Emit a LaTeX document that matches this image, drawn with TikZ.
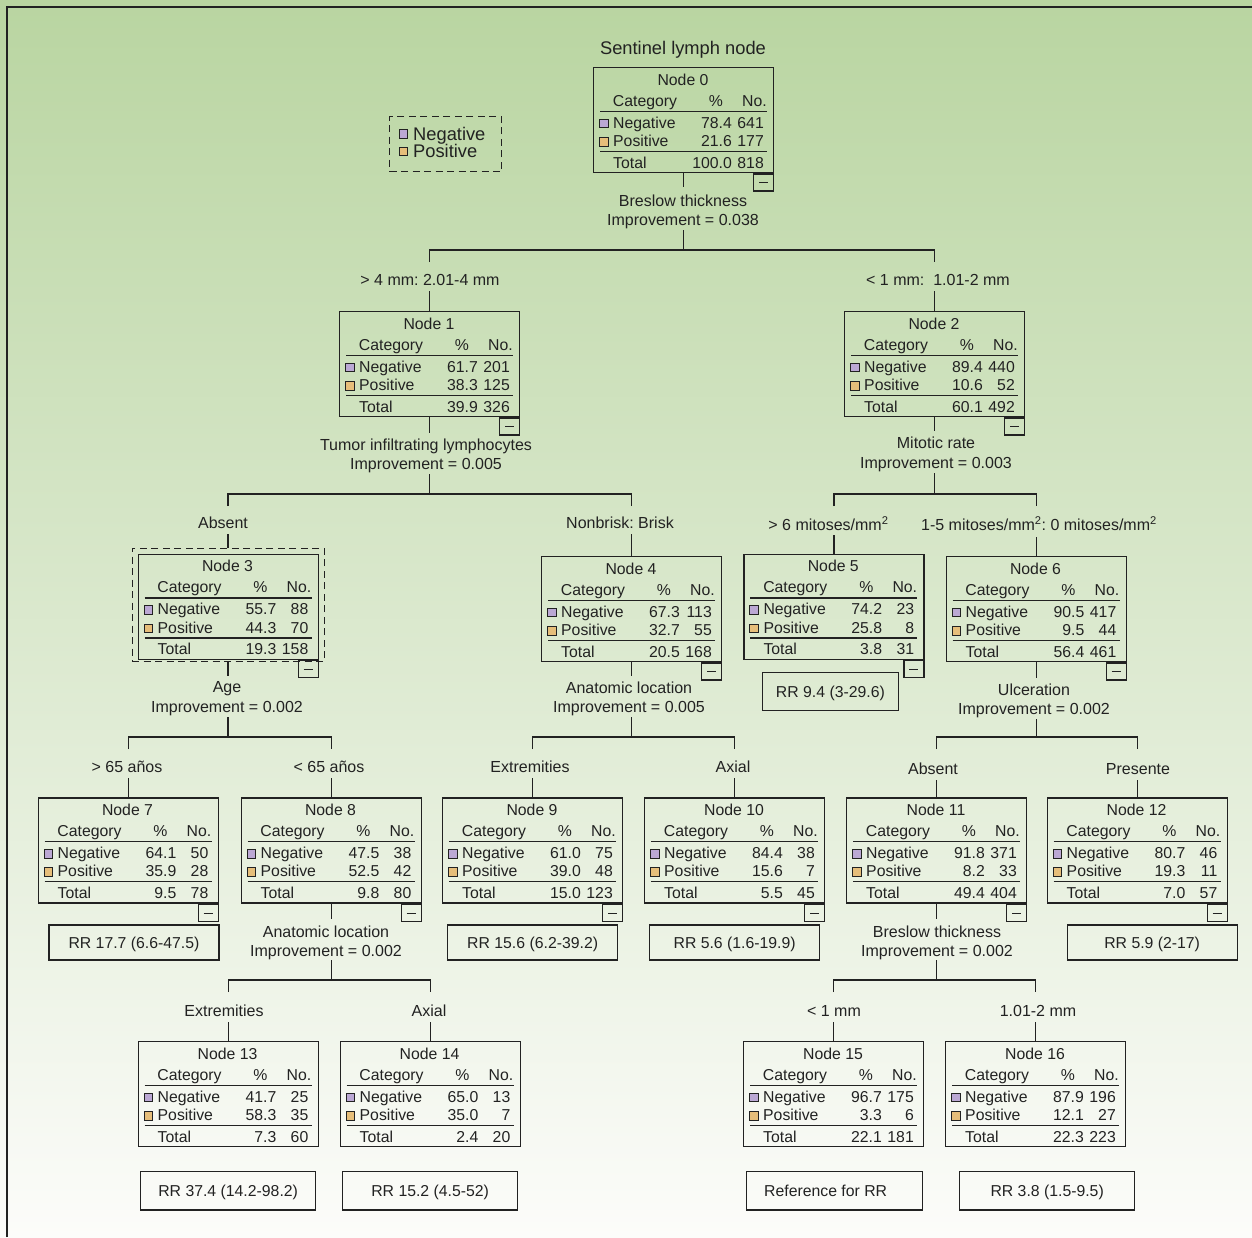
\documentclass[tikz,border=0pt]{standalone}
\usepackage{fontspec}
\setmainfont{Liberation Sans}
\usetikzlibrary{calc}
\frenchspacing
\definecolor{bgtop}{HTML}{B9D5A1}
\definecolor{bgbot}{HTML}{FCFCFA}
\definecolor{negc}{HTML}{BBA8D4}
\definecolor{posc}{HTML}{E6BE7A}
\definecolor{ink}{HTML}{222222}
\newcommand\fsN{\fontsize{15.8}{19}\selectfont}
\newcommand\fsL{\fontsize{16}{19}\selectfont}
\newcommand\fsT{\fontsize{18.3}{20}\selectfont}
\tikzset{
  nodebox/.style={draw=ink, line width=1.3pt, minimum width=180pt, minimum height=105pt, inner sep=0pt, anchor=north west},
  tx/.style={font=\fsN, text=ink, inner sep=0pt, anchor=base},
  txl/.style={tx, anchor=base west},
  txr/.style={tx, anchor=base east},
  rulel/.style={draw=ink, line width=1.2pt},
  sq/.style={draw=ink, line width=0.9pt, minimum size=8.6pt, inner sep=0pt, anchor=north west},
  minusbox/.style={draw=ink, line width=1.3pt, minimum width=20pt, minimum height=17pt, inner sep=0pt, anchor=north east},
  conn/.style={draw=ink, line width=1.3pt},
  lab/.style={font=\fsL, text=ink, inner sep=0pt, text height=11.46pt, text depth=0pt},
  rrbox/.style={draw=ink, line width=1.3pt, inner sep=0pt, font=\fsN, text=ink, text height=11.3pt, text depth=0pt, anchor=north west},
  dashbox/.style={draw=ink, line width=1.2pt, dash pattern=on 7pt off 4.5pt, inner sep=0pt, anchor=north west},
}
\newcommand\treenode[9]{%
  \node[nodebox] (n#1) at (#2,#3) {};
  \coordinate (n#1o) at (n#1.north west);
  \node[tx] (n#1ti) at ($(n#1o)+(90,18.4)$) {Node #1};
  \node[tx] (n#1hc) at ($(n#1o)+(52,39)$) {Category};
  \node[tx] (n#1hp) at ($(n#1o)+(123,39)$) {\%};
  \node[txr] (n#1hn) at ($(n#1o)+(174,39)$) {No.};
  \draw[rulel] ($(n#1o)+(7,44.5)$) -- ($(n#1o)+(174,44.5)$);
  \node[sq,fill=negc] (n#1sa) at ($(n#1o)+(6,51.6)$) {};
  \node[txl] (n#1ca) at ($(n#1o)+(20,61)$) {Negative};
  \node[txr] (n#1pa) at ($(n#1o)+(139,61)$) {#4};
  \node[txr] (n#1ka) at ($(n#1o)+(171,61)$) {#5};
  \node[sq,fill=posc] (n#1sb) at ($(n#1o)+(6,70)$) {};
  \node[txl] (n#1cb) at ($(n#1o)+(20,79.5)$) {Positive};
  \node[txr] (n#1pb) at ($(n#1o)+(139,79.5)$) {#6};
  \node[txr] (n#1kb) at ($(n#1o)+(171,79.5)$) {#7};
  \draw[rulel] ($(n#1o)+(7,84.5)$) -- ($(n#1o)+(174,84.5)$);
  \node[txl] (n#1cc) at ($(n#1o)+(20,101)$) {Total};
  \node[txr] (n#1pc) at ($(n#1o)+(139,101)$) {#8};
  \node[txr] (n#1kc) at ($(n#1o)+(171,101)$) {#9};
}
\newcommand\minusb[1]{%
  \node[minusbox] (n#1m) at (n#1.south east) {};
  \draw[conn, line width=1.1pt] ($(n#1m.center)+(-4.5,0.3)$) -- ($(n#1m.center)+(4.5,0.3)$);
}
\begin{document}
\begin{tikzpicture}[x=1pt,y=-1pt]
\shade[top color=bgtop, bottom color=bgbot] (0,0) rectangle (1252,1237);
\useasboundingbox (0,0) rectangle (1252,1237);
\draw[ink, line width=2pt] (7,1237) -- (7,7) -- (1252,7);

% title and legend
\node[font=\fsT, text=ink, anchor=base, inner sep=0pt] (title) at (683,54) {Sentinel lymph node};
\node[dashbox, minimum width=112pt, minimum height=55pt] (legend) at (389,116) {};
\node[sq, minimum size=8.5pt, fill=negc] (lgsa) at (398.5,129.2) {};
\node[font=\fsT, text=ink, anchor=base west, inner sep=0pt] (lgta) at (413,140) {Negative};
\node[sq, minimum size=8.5pt, fill=posc] (lgsb) at (398.5,146.7) {};
\node[font=\fsT, text=ink, anchor=base west, inner sep=0pt] (lgtb) at (413,157.7) {Positive};

% nodes
\treenode{0}{593}{67}{78.4}{641}{21.6}{177}{100.0}{818}\minusb{0}
\treenode{1}{339}{311}{61.7}{201}{38.3}{125}{39.9}{326}\minusb{1}
\treenode{2}{844}{311}{89.4}{440}{10.6}{52}{60.1}{492}\minusb{2}
\treenode{3}{137.5}{553.5}{55.7}{88}{44.3}{70}{19.3}{158}\minusb{3}
\node[dashbox, minimum width=192pt, minimum height=113.5pt] (n3d) at (131.5,547.5) {};
\treenode{4}{541}{556}{67.3}{113}{32.7}{55}{20.5}{168}\minusb{4}
\treenode{5}{743.3}{553.5}{74.2}{23}{25.8}{8}{3.8}{31}\minusb{5}
\treenode{6}{945.5}{556}{90.5}{417}{9.5}{44}{56.4}{461}\minusb{6}
\treenode{7}{37.5}{797.3}{64.1}{50}{35.9}{28}{9.5}{78}\minusb{7}
\treenode{8}{240.5}{797.3}{47.5}{38}{52.5}{42}{9.8}{80}\minusb{8}
\treenode{9}{442}{797.3}{61.0}{75}{39.0}{48}{15.0}{123}\minusb{9}
\treenode{10}{644}{797.3}{84.4}{38}{15.6}{7}{5.5}{45}\minusb{10}
\treenode{11}{846}{797.3}{91.8}{371}{8.2}{33}{49.4}{404}\minusb{11}
\treenode{12}{1046.5}{797.3}{80.7}{46}{19.3}{11}{7.0}{57}\minusb{12}
\treenode{13}{137.5}{1041}{41.7}{25}{58.3}{35}{7.3}{60}
\treenode{14}{339.5}{1041}{65.0}{13}{35.0}{7}{2.4}{20}
\treenode{15}{743}{1041}{96.7}{175}{3.3}{6}{22.1}{181}
\treenode{16}{945}{1041}{87.9}{196}{12.1}{27}{22.3}{223}

% split 0
\node[lab] (s0a) at (683,201) {Breslow thickness};
\node[lab] (s0b) at (683,220) {Improvement = 0.038};
\draw[conn] (n0.south) -- (n0.south |- 0,187);
\draw[conn] (n0.south |- 0,230) -- (n0.south |- 0,250);
\draw[conn] (n1.north |- 0,262) |- (n2.north |- 0,250) -- (n2.north |- 0,262);
\node[lab] (l1) at (430,280) {> 4 mm: 2.01-4 mm};
\node[lab] (l2) at (938,280) {< 1 mm:\ \ 1.01-2 mm};
\draw[conn] (n1.north |- 0,291) -- (n1.north);
\draw[conn] (n2.north |- 0,291) -- (n2.north);

% split 1
\node[lab] (s1a) at (426,445) {Tumor infiltrating lymphocytes};
\node[lab] (s1b) at (426,464) {Improvement = 0.005};
\draw[conn] (n1.south) -- (n1.south |- 0,433);
\draw[conn] (n1.south |- 0,474) -- (n1.south |- 0,494);
\draw[conn] (n3d.north |- 0,506) |- (n4.north |- 0,494) -- (n4.north |- 0,506);
\node[lab] (l3) at (223,523) {Absent};
\node[lab] (l4) at (620,523) {Nonbrisk: Brisk};
\draw[conn] (n3d.north |- 0,534) -- (n3d.north);
\draw[conn] (n4.north |- 0,534) -- (n4.north);

% split 2
\node[lab] (s2a) at (936,443) {Mitotic rate};
\node[lab] (s2b) at (936,463) {Improvement = 0.003};
\draw[conn] (n2.south) -- (n2.south |- 0,431);
\draw[conn] (n2.south |- 0,473) -- (n2.south |- 0,494);
\draw[conn] (n5.north |- 0,506) |- (n6.north |- 0,494) -- (n6.north |- 0,506);
\node[lab] (l5) at (828.5,525) {> 6 mitoses/mm\textsuperscript{2}};
\node[lab] (l6) at (1039,525) {1-5 mitoses/mm\textsuperscript{2}: 0 mitoses/mm\textsuperscript{2}};
\draw[conn] (n5.north |- 0,535) -- (n5.north);
\draw[conn] (n6.north |- 0,537) -- (n6.north);

% split 3
\node[lab] (s3a) at (227,687) {Age};
\node[lab] (s3b) at (227,707) {Improvement = 0.002};
\draw[conn] (n3d.south) -- (n3d.south |- 0,676);
\draw[conn] (n3d.south |- 0,717) -- (n3d.south |- 0,737);
\draw[conn] (n7.north |- 0,749) |- (n8.north |- 0,737) -- (n8.north |- 0,749);
\node[lab] (l7) at (127,767) {> 65 años};
\node[lab] (l8) at (329,767) {< 65 años};
\draw[conn] (n7.north |- 0,778) -- (n7.north);
\draw[conn] (n8.north |- 0,778) -- (n8.north);

% split 4
\node[lab] (s4a) at (629,688) {Anatomic location};
\node[lab] (s4b) at (629,707) {Improvement = 0.005};
\draw[conn] (n4.south) -- (n4.south |- 0,676);
\draw[conn] (n4.south |- 0,717) -- (n4.south |- 0,737);
\draw[conn] (n9.north |- 0,749) |- (n10.north |- 0,737) -- (n10.north |- 0,749);
\node[lab] (l9) at (530,767) {Extremities};
\node[lab] (l10) at (733,767) {Axial};
\draw[conn] (n9.north |- 0,778) -- (n9.north);
\draw[conn] (n10.north |- 0,778) -- (n10.north);

% split 6
\node[lab] (s6a) at (1034,690) {Ulceration};
\node[lab] (s6b) at (1034,709) {Improvement = 0.002};
\draw[conn] (n6.south) -- (n6.south |- 0,678);
\draw[conn] (n6.south |- 0,719) -- (n6.south |- 0,737);
\draw[conn] (n11.north |- 0,749) |- (n12.north |- 0,737) -- (n12.north |- 0,749);
\node[lab] (l11) at (933,769) {Absent};
\node[lab] (l12) at (1138,769) {Presente};
\draw[conn] (n11.north |- 0,780) -- (n11.north);
\draw[conn] (n12.north |- 0,780) -- (n12.north);

% split 8
\node[lab] (s8a) at (326,931.5) {Anatomic location};
\node[lab] (s8b) at (326,951) {Improvement = 0.002};
\draw[conn] (n8.south) -- (n8.south |- 0,919);
\draw[conn] (n8.south |- 0,960) -- (n8.south |- 0,980);
\draw[conn] (n13.north |- 0,992) |- (n14.north |- 0,980) -- (n14.north |- 0,992);
\node[lab] (l13) at (224,1011) {Extremities};
\node[lab] (l14) at (429,1011) {Axial};
\draw[conn] (n13.north |- 0,1022) -- (n13.north);
\draw[conn] (n14.north |- 0,1022) -- (n14.north);

% split 11
\node[lab] (s11a) at (937,931.5) {Breslow thickness};
\node[lab] (s11b) at (937,951) {Improvement = 0.002};
\draw[conn] (n11.south) -- (n11.south |- 0,919);
\draw[conn] (n11.south |- 0,960) -- (n11.south |- 0,980);
\draw[conn] (n15.north |- 0,992) |- (n16.north |- 0,980) -- (n16.north |- 0,992);
\node[lab] (l15) at (834,1011) {< 1 mm};
\node[lab] (l16) at (1038,1011) {1.01-2 mm};
\draw[conn] (n15.north |- 0,1022) -- (n15.north);
\draw[conn] (n16.north |- 0,1022) -- (n16.north);

% RR boxes
\node[rrbox, minimum width=135.5pt, minimum height=37.5pt] (rr5) at (762,672) {RR 9.4 (3-29.6)};
\node[rrbox, minimum width=170pt, minimum height=35pt] (rr7) at (48.3,924.3) {RR 17.7 (6.6-47.5)};
\node[rrbox, minimum width=170pt, minimum height=35pt] (rr9) at (447,924.3) {RR 15.6 (6.2-39.2)};
\node[rrbox, minimum width=170pt, minimum height=35pt] (rr10) at (649,924.3) {RR 5.6 (1.6-19.9)};
\node[rrbox, minimum width=170pt, minimum height=35pt] (rr12) at (1066.5,924.3) {RR 5.9 (2-17)};
\node[rrbox, minimum width=175pt, minimum height=38.5pt] (rr13) at (140,1170.7) {RR 37.4 (14.2-98.2)};
\node[rrbox, minimum width=175pt, minimum height=38.5pt] (rr14) at (342,1170.7) {RR 15.2 (4.5-52)};
\node[rrbox, minimum width=176pt, minimum height=38.5pt] (rr15) at (746,1170.7) {\hspace*{-18pt}Reference for RR};
\node[rrbox, minimum width=175pt, minimum height=38.5pt] (rr16) at (959,1170.7) {RR 3.8 (1.5-9.5)};
\end{tikzpicture}
\end{document}
